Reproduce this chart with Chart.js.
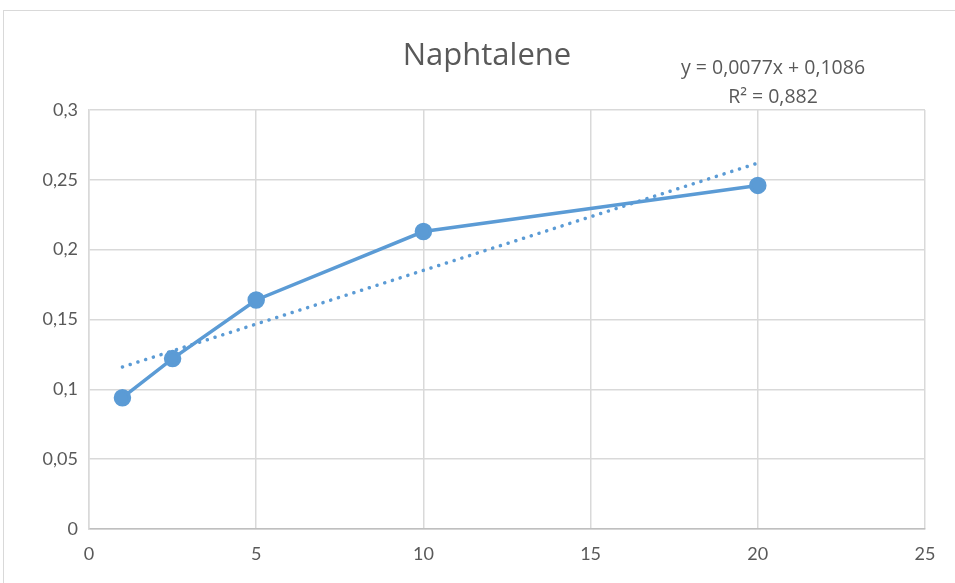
<!DOCTYPE html>
<html>
<head>
<meta charset="utf-8">
<script src="https://cdn.jsdelivr.net/npm/chart.js@4"></script>
<style>
  html, body { margin: 0; padding: 0; background: #fff; overflow: hidden; }
  #wrap { position: relative; width: 955px; height: 583px; }
  #frame { position: absolute; left: 3px; top: 10px; width: 1000px; height: 1000px; border: 1px solid #d9d9d9; }
  canvas { position: absolute; left: 0; top: 0; }
</style>
</head>
<body>
<div id="wrap">
  <div id="frame"></div>
  <canvas id="chart" width="955" height="583"></canvas>
</div>
<script>
// ----------------------------------------------------
// data
const concX = [ 1, 2.5, 5, 10, 20 ];
const absY = [ 0.094, 0.122, 0.164, 0.213, 0.246 ];
const trendX = [ 1, 20 ];
const trendY = [ 0.116, 0.262 ];
const xTicks = [ 0, 5, 10, 15, 20, 25 ];
const yTickLabels = [ '0', '0,05', '0,1', '0,15', '0,2', '0,25', '0,3' ];
const titleText = 'Naphtalene';
const eqLines = [ 'y = 0,0077x + 0,1086', 'R\u00b2 = 0,882' ];
// ----------------------------------------------------
const blue = '#5b9bd5';
const grey = '#595959';
const tickFont = 'Lato, "Open Sans", sans-serif';
const textFont = '"Open Sans", Lato, sans-serif';

// title and trendline equation, placed like in the Excel chart
const labels = {
    id: 'labels',
    afterDraw( chart ) {
        const ctx = chart.ctx;
        ctx.save();
        ctx.fillStyle = grey;
        ctx.textAlign = 'center';
        ctx.textBaseline = 'alphabetic';
        ctx.font = '31px ' + textFont;
        ctx.fillText( titleText, 487, 65 );
        ctx.font = '19.5px ' + textFont;
        ctx.fillText( eqLines[ 0 ], 773, 74 );
        ctx.fillText( eqLines[ 1 ], 773, 103 );
        ctx.restore();
    }
};

new Chart( document.getElementById( 'chart' ), {
    type: 'scatter',
    data: {
        datasets: [
            {
                label: titleText,
                data: concX.map( ( x, i ) => ( { x: x, y: absY[ i ] } ) ),
                showLine: true,
                borderColor: blue,
                backgroundColor: blue,
                borderWidth: 3.5,
                pointRadius: 7,
                pointHoverRadius: 7,
                order: 1
            },
            {
                label: 'trend',
                data: trendX.map( ( x, i ) => ( { x: x, y: trendY[ i ] } ) ),
                showLine: true,
                borderColor: blue,
                borderWidth: 3.5,
                borderDash: [ 0.1, 8 ],
                borderCapStyle: 'round',
                pointRadius: 0,
                order: 2
            }
        ]
    },
    options: {
        responsive: false,
        animation: false,
        layout: { padding: { left: 0, right: 30, top: 110, bottom: 0 } },
        plugins: {
            legend: { display: false },
            tooltip: { enabled: false },
            title: { display: false }
        },
        scales: {
            x: {
                type: 'linear',
                min: 0,
                max: 25,
                afterBuildTicks: ( s ) => { s.ticks = xTicks.map( v => ( { value: v } ) ); },
                grid: { color: '#d9d9d9', lineWidth: 1.5, drawTicks: false },
                border: { color: '#bfbfbf', width: 1.5 },
                ticks: { color: grey, padding: 14, font: { family: tickFont, size: 18 } },
                afterFit: ( s ) => { s.height = 54; }
            },
            y: {
                type: 'linear',
                min: 0,
                max: 0.3,
                ticks: {
                    stepSize: 0.05,
                    color: grey,
                    padding: 11,
                    font: { family: tickFont, size: 18 },
                    callback: ( v ) => yTickLabels[ Math.round( v / 0.05 ) ]
                },
                grid: { color: '#d9d9d9', lineWidth: 1.5, drawTicks: false },
                border: { color: '#d9d9d9', width: 1.5 },
                afterFit: ( s ) => { s.width = 89; }
            }
        }
    },
    plugins: [ labels ]
});
</script>
</body>
</html>
